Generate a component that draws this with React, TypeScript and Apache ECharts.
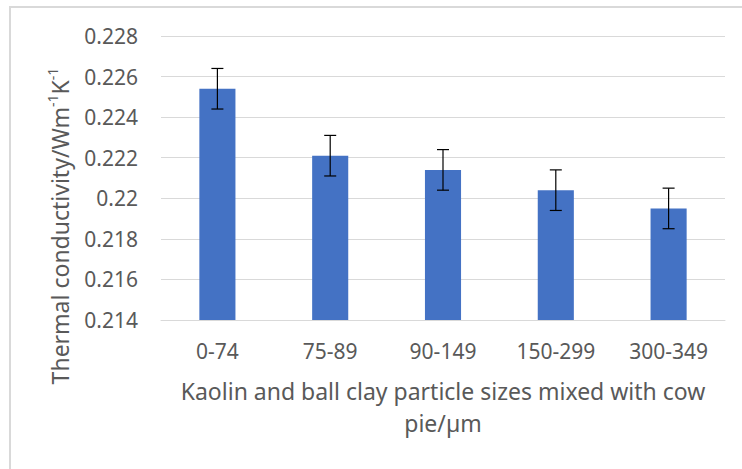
import React, { useEffect, useRef } from "react";
import * as echarts from "echarts";

const categories = ["0-74", "75-89", "90-149", "150-299", "300-349"];
const values = [0.2254, 0.2221, 0.2214, 0.2204, 0.2195];
const errors = [0.001, 0.001, 0.001, 0.001, 0.001];
const yTicks = { min: 0.214, max: 0.228, interval: 0.002 };
const xTitle = "Kaolin and ball clay particle sizes mixed with cow\npie/µm";

const FONT = "Noto Sans";
const GRAY = "#595959";

export default function App() {
  const ref = useRef<HTMLDivElement>(null);
  useEffect(() => {
    if (!ref.current) return;
    const chart = echarts.init(ref.current, null, { renderer: "svg" });
    chart.setOption({
      animation: false,
      backgroundColor: "#ffffff",
      textStyle: { fontFamily: FONT },
      grid: { left: 161, right: 17, top: 36, bottom: 149, containLabel: false },
      graphic: [
        {
          type: "rect",
          shape: { x: 10, y: 7, width: 800, height: 500 },
          style: { fill: "none", stroke: "#d9d9d9", lineWidth: 2 },
          silent: true,
        },
        {
          type: "text",
          x: 60,
          y: 226,
          rotation: Math.PI / 2,
          style: {
            text: "{a|Thermal conductivity/Wm}{s|-1}{a|K}{s|-1}",
            align: "center",
            verticalAlign: "middle",
            fill: GRAY,
            rich: {
              a: { fontSize: 23, fontFamily: FONT, fill: GRAY, lineHeight: 30 },
              s: { fontSize: 14, fontFamily: FONT, fill: GRAY, verticalAlign: "top", lineHeight: 30 },
            },
          },
        },
      ],
      xAxis: {
        type: "category",
        data: categories,
        axisTick: { show: false },
        axisLine: { show: true, lineStyle: { color: "#d9d9d9", width: 1 } },
        axisLabel: { color: GRAY, fontSize: 21, fontFamily: FONT, margin: 20 },
        name: xTitle,
        nameLocation: "middle",
        nameGap: 55,
        nameTextStyle: { color: GRAY, fontSize: 23, fontFamily: FONT, lineHeight: 32 },
      },
      yAxis: {
        type: "value",
        min: yTicks.min,
        max: yTicks.max,
        interval: yTicks.interval,
        axisLine: { show: false },
        axisTick: { show: false },
        splitLine: { lineStyle: { color: "#d9d9d9", width: 1 } },
        axisLabel: {
          color: GRAY,
          fontSize: 21,
          fontFamily: FONT,
          margin: 23,
          formatter: (v: number) => String(parseFloat(v.toFixed(3))),
        },
      },
      series: [
        {
          type: "bar",
          data: values,
          barWidth: "32%",
          itemStyle: { color: "#4472C4" },
        },
        {
          type: "custom",
          data: categories.map((_, i) => [i, values[i], errors[i]]),
          encode: { x: 0, y: 1 },
          z: 10,
          renderItem: (params: any, api: any) => {
            const i = api.value(0);
            const v = api.value(1);
            const e = api.value(2);
            const top = api.coord([i, v + e]);
            const bot = api.coord([i, v - e]);
            const hw = 6;
            const st = { stroke: "#000000", lineWidth: 1.2 };
            return {
              type: "group",
              children: [
                { type: "line", shape: { x1: top[0], y1: top[1], x2: bot[0], y2: bot[1] }, style: st },
                { type: "line", shape: { x1: top[0] - hw, y1: top[1], x2: top[0] + hw, y2: top[1] }, style: st },
                { type: "line", shape: { x1: bot[0] - hw, y1: bot[1], x2: bot[0] + hw, y2: bot[1] }, style: st },
              ],
            };
          },
        },
      ],
    });
    return () => chart.dispose();
  }, []);
  return (
    <div
      ref={ref}
      style={{ position: "fixed", left: 0, top: 0, width: 742, height: 469, background: "#fff" }}
    />
  );
}
